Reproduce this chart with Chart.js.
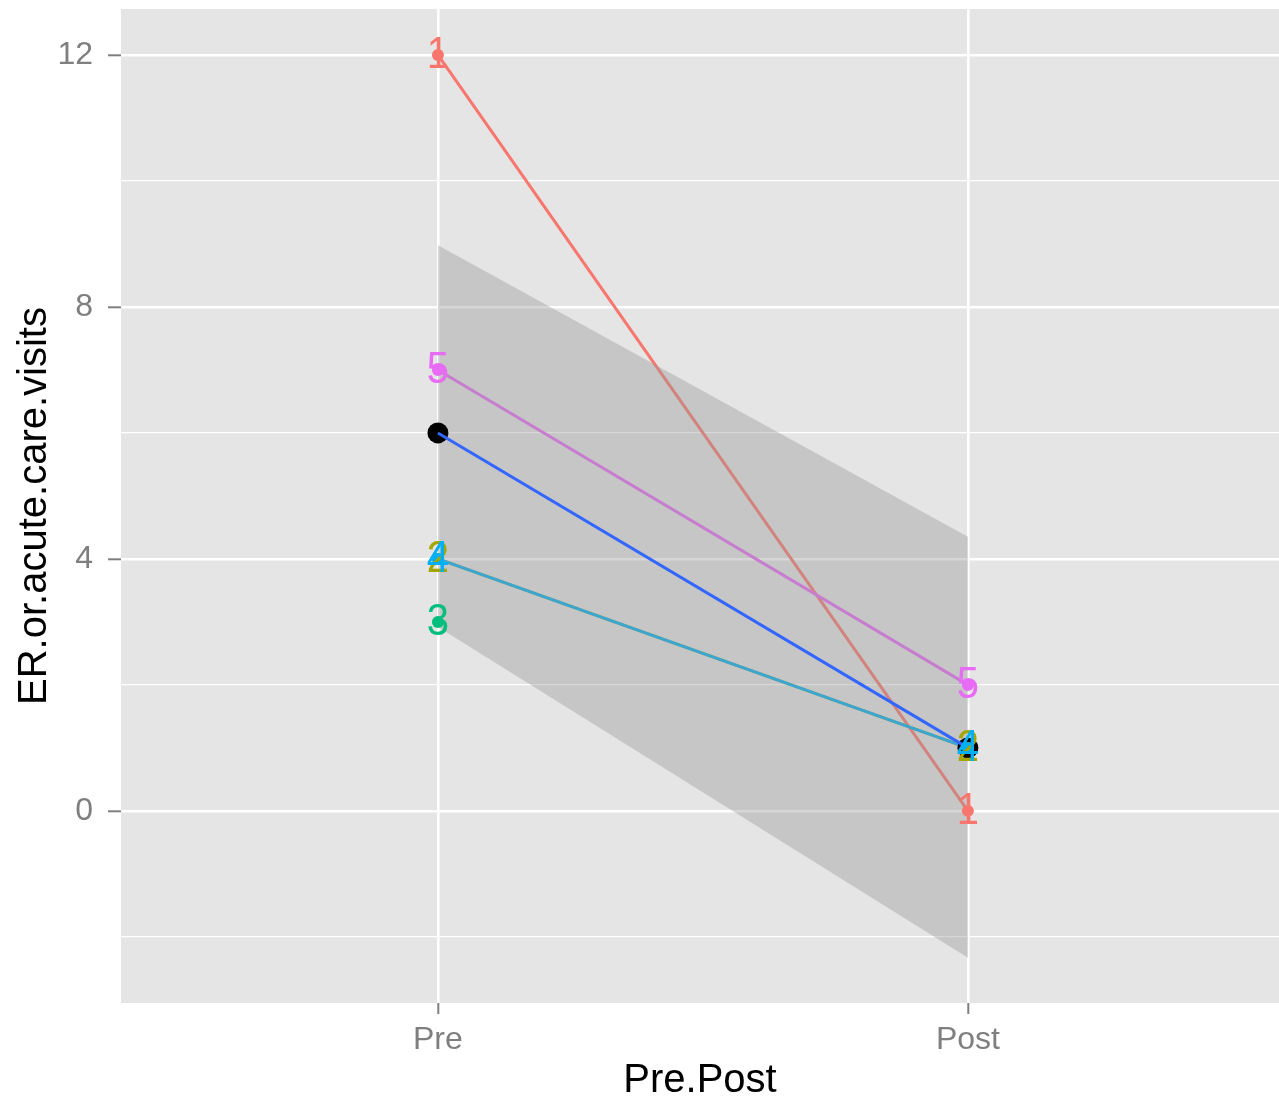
<!DOCTYPE html>
<html lang="en">
<head>
<meta charset="UTF-8">
<script src="https://cdn.jsdelivr.net/npm/chart.js@4.4.1/dist/chart.umd.min.js"></script>
<title>ER visits</title>
<style>
  html, body { margin: 0; background: #fff; overflow: hidden; }
  canvas { display: block; }
</style>
</head>
<body>
<canvas id="chart" width="1279" height="1101"></canvas>
<script>
// data
const categories = ['Pre', 'Post'];
const patients = ['1', '2', '3', '4', '5'];
const preVisits = [12, 4, 3, 4, 7];
const postVisits = [0, 1, null, 1, 2];
const patientColors = ['#F8766D', '#A3A500', '#00BF7D', '#00B0F6', '#E76BF3'];
const meanVisits = [6, 1];
const ribbonUpper = [8.98, 4.35];
const ribbonLower = [2.92, -2.33];
const yTicks = [-2, 0, 2, 4, 6, 8, 10, 12];
const yTickLabels = ['', '0', '', '4', '', '8', '', '12'];

const FONT = "'Liberation Sans', Arial, sans-serif";

function pts(vals) {
  return vals.map((v, i) => ({ x: i + 1, y: v }));
}

function isMajor(c) {
  return c.tick && yTickLabels[yTicks.indexOf(c.tick.value)] !== '';
}

const datasets = [];

// patient lines
patients.forEach((p, i) => {
  datasets.push({
    type: 'line',
    data: pts([preVisits[i], postVisits[i]]),
    borderColor: patientColors[i],
    borderWidth: 3,
    pointRadius: 0,
    fill: false,
    spanGaps: false,
    order: 20 - i
  });
});

// confidence ribbon
datasets.push({
  type: 'line',
  data: pts(ribbonUpper),
  borderWidth: 0,
  borderColor: 'rgba(0,0,0,0)',
  pointRadius: 0,
  backgroundColor: 'rgba(153,153,153,0.4)',
  fill: '+1',
  order: 9
});
datasets.push({
  type: 'line',
  data: pts(ribbonLower),
  borderWidth: 0,
  borderColor: 'rgba(0,0,0,0)',
  pointRadius: 0,
  fill: false,
  order: 9
});

// mean points
datasets.push({
  type: 'scatter',
  data: pts(meanVisits),
  pointRadius: 10.5,
  pointBorderWidth: 0,
  pointBackgroundColor: '#000000',
  order: 8
});

// mean line
datasets.push({
  type: 'line',
  data: pts(meanVisits),
  borderColor: '#3366FF',
  borderWidth: 3,
  pointRadius: 0,
  fill: false,
  order: 7
});

// patient points
patients.forEach((p, i) => {
  datasets.push({
    type: 'scatter',
    data: pts([preVisits[i], postVisits[i]]).filter(d => d.y !== null),
    pointRadius: 6,
    pointBorderWidth: 0,
    pointBackgroundColor: patientColors[i],
    order: 6 - i * 0.1
  });
});

const panelBg = {
  id: 'panelBg',
  beforeDraw(chart) {
    const { ctx, chartArea: a } = chart;
    ctx.save();
    ctx.fillStyle = '#E5E5E5';
    ctx.fillRect(a.left, a.top, a.right - a.left, a.bottom - a.top);
    ctx.restore();
  }
};

// patient number labels on top of the points (slightly tall glyphs like the original)
const pointLabels = {
  id: 'pointLabels',
  afterDatasetsDraw(chart) {
    const { ctx, scales: { x, y } } = chart;
    ctx.save();
    ctx.font = '40px ' + FONT;
    ctx.textAlign = 'center';
    ctx.textBaseline = 'middle';
    patients.forEach((p, i) => {
      [preVisits[i], postVisits[i]].forEach((v, j) => {
        if (v === null) return;
        ctx.save();
        ctx.translate(x.getPixelForValue(j + 1), y.getPixelForValue(v) + 1);
        ctx.scale(1, 1.12);
        ctx.fillStyle = patientColors[i];
        ctx.fillText(p, 0, 0);
        ctx.restore();
      });
    });
    ctx.restore();
  }
};

new Chart(document.getElementById('chart').getContext('2d'), {
  type: 'line',
  data: { datasets },
  options: {
    responsive: false,
    animation: false,
    devicePixelRatio: 1,
    layout: { autoPadding: false, padding: { top: 9, right: 0, bottom: 0, left: 0 } },
    plugins: { legend: { display: false }, tooltip: { enabled: false } },
    scales: {
      x: {
        type: 'linear',
        min: 0.402,
        max: 2.587,
        afterBuildTicks(s) { s.ticks = categories.map((c, i) => ({ value: i + 1 })); },
        afterFit(s) { s.height = 98; s.paddingLeft = 0; s.paddingRight = 0; },
        border: { display: false },
        grid: {
          color: '#FFFFFF',
          lineWidth: 2.6,
          tickColor: '#7F7F7F',
          tickLength: 11,
          tickWidth: 2
        },
        ticks: {
          padding: 7,
          color: '#7F7F7F',
          font: { family: FONT, size: 32 },
          maxRotation: 0,
          callback: v => categories[v - 1]
        },
        title: {
          display: true,
          text: 'Pre.Post',
          color: '#000000',
          font: { family: FONT, size: 40, lineHeight: 1.0 },
          padding: { top: 0, bottom: 0 }
        }
      },
      y: {
        type: 'linear',
        min: -3.05,
        max: 12.73,
        afterBuildTicks(s) { s.ticks = yTicks.map(v => ({ value: v })); },
        afterFit(s) { s.width = 121; s.paddingTop = 0; s.paddingBottom = 0; },
        border: { display: false },
        grid: {
          color: '#FFFFFF',
          lineWidth: c => (isMajor(c) ? 2.6 : 1.2),
          tickColor: c => (isMajor(c) ? '#7F7F7F' : 'rgba(0,0,0,0)'),
          tickLength: 13,
          tickWidth: 2
        },
        ticks: {
          padding: 15,
          color: '#7F7F7F',
          font: { family: FONT, size: 32 },
          callback: v => yTickLabels[yTicks.indexOf(v)]
        },
        title: {
          display: true,
          text: 'ER.or.acute.care.visits',
          color: '#000000',
          font: { family: FONT, size: 40, lineHeight: 1.0 },
          padding: { top: 15, bottom: 0 }
        }
      }
    }
  },
  plugins: [panelBg, pointLabels]
});
</script>
</body>
</html>
